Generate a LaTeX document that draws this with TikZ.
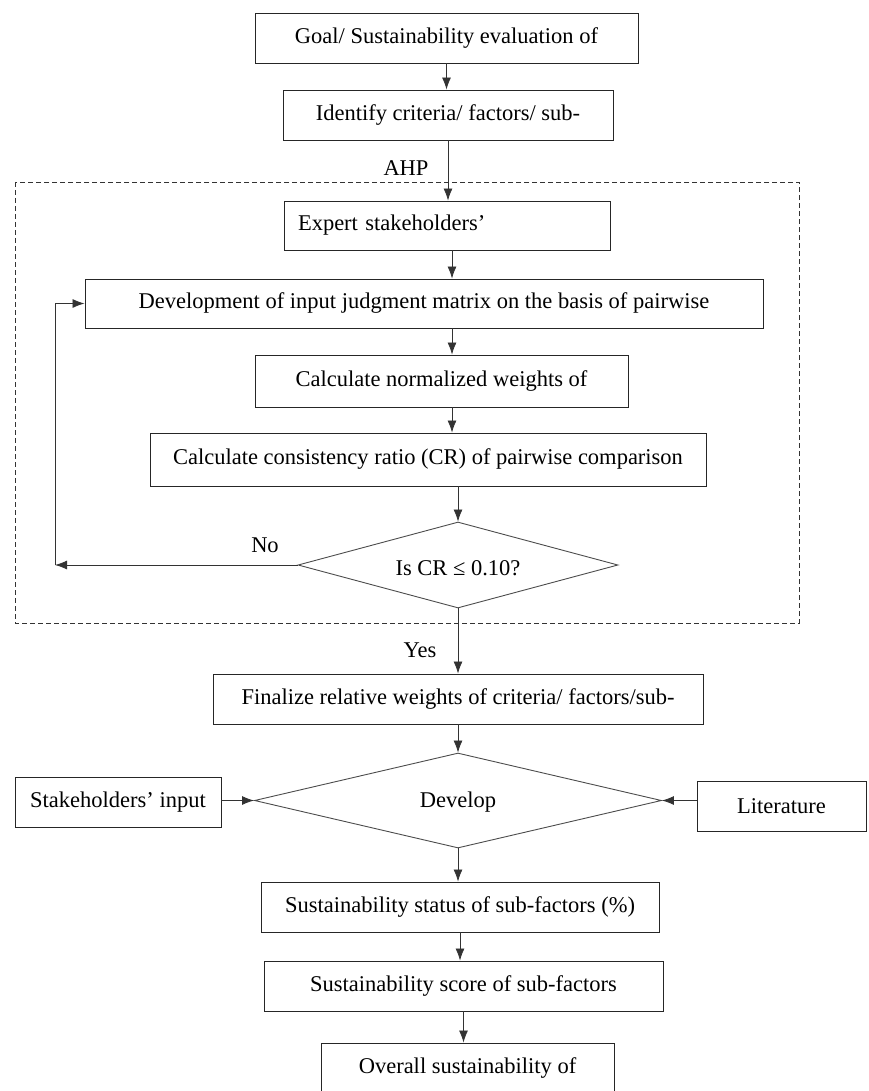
\documentclass[tikz,border=0pt]{standalone}
\usepackage{fontspec}
\setmainfont{Liberation Serif}
\usetikzlibrary{shapes.geometric,arrows.meta}

\tikzset{
  box/.style={draw=black!85, rectangle, inner sep=0pt, line width=0.9pt},
  choice/.style={draw=black!70, diamond, inner sep=0pt, line width=0.9pt},
  arr/.style={-{Latex[length=12pt,width=9pt]}, line width=0.8pt, draw=black!80},
  lab/.style={inner sep=0pt}
}

\begin{document}
\begin{tikzpicture}[x=1pt,y=-1pt,font=\fontsize{22.5}{27}\selectfont]
\useasboundingbox (0,0) rectangle (869,1091);

\draw [dashed, dash pattern=on 5pt off 3pt, line width=0.8pt, black!80] (15,182) rectangle (799,623);

\node [box, minimum width=383, minimum height=50] (goal) at (446.5,38) {Goal/ Sustainability evaluation of};
\node [box, minimum width=330, minimum height=50] (ident) at (448,115) {Identify criteria/ factors/ sub-};
\node [lab] (ahp) at (406,168) {AHP};
\node [box, minimum height=49, text width=298, inner xsep=14pt, align=left] (expert) at (447,225.5) {Expert stakeholders’};
\node [box, minimum width=678, minimum height=49] (dev) at (424,303.5) {Development of input judgment matrix on the basis of pairwise};
\node [box, minimum width=373, minimum height=52] (norm) at (441.5,381) {Calculate normalized weights of};
\node [box, minimum width=556, minimum height=53] (cons) at (428,459.5) {Calculate consistency ratio (CR) of pairwise comparison};
\node [choice, minimum width=320, minimum height=86] (cr) at (458,565) {};
\node [lab] (crtext) at (458,568) {Is CR ≤ 0.10?};
\node [lab] (no) at (265,545) {No};
\node [lab] (yes) at (420,650) {Yes};
\coordinate (spine) at (452,0);
\coordinate (loop) at (55,565);

\node [box, minimum width=490, minimum height=50] (final) at (458,699) {Finalize relative weights of criteria/ factors/sub-};
\node [choice, minimum width=407, minimum height=95] (develop) at (458,800.5) {};
\node [lab] (devtext) at (458,802) {Develop};
\node [box, minimum width=206, minimum height=50] (stake) at (118,802) {Stakeholders’ input};
\node [box, minimum width=169, minimum height=50] (lit) at (781.5,806) {Literature};
\node [box, minimum width=398, minimum height=50] (status) at (460,907) {Sustainability status of sub-factors (\%)};
\node [box, minimum width=399, minimum height=50] (score) at (463.5,986) {Sustainability score of sub-factors};
\node [box, minimum width=293, minimum height=50] (overall) at (467.5,1068) {Overall sustainability of};

\draw [arr] (goal.south) -- (goal.south |- ident.north);
\draw [arr] (ident.south) -- (ident.south |- expert.north);
\draw [arr] (spine |- expert.south) -- (spine |- dev.north);
\draw [arr] (spine |- dev.south) -- (spine |- norm.north);
\draw [arr] (spine |- norm.south) -- (spine |- cons.north);
\draw [arr] (cr.north |- cons.south) -- (cr.north);
\draw [arr] (cr.west) -- (loop);
\draw [arr] (loop) |- (dev.west);
\draw [arr] (cr.south) -- (cr.south |- final.north);
\draw [arr] (final.south) -- (develop.north);
\draw [arr] (develop.west -| stake.east) -- (develop.west);
\draw [arr] (develop.east -| lit.west) -- (develop.east);
\draw [arr] (develop.south) -- (develop.south |- status.north);
\draw [arr] (status.south) -- (status.south |- score.north);
\draw [arr] (score.south) -- (score.south |- overall.north);

\end{tikzpicture}
\end{document}
